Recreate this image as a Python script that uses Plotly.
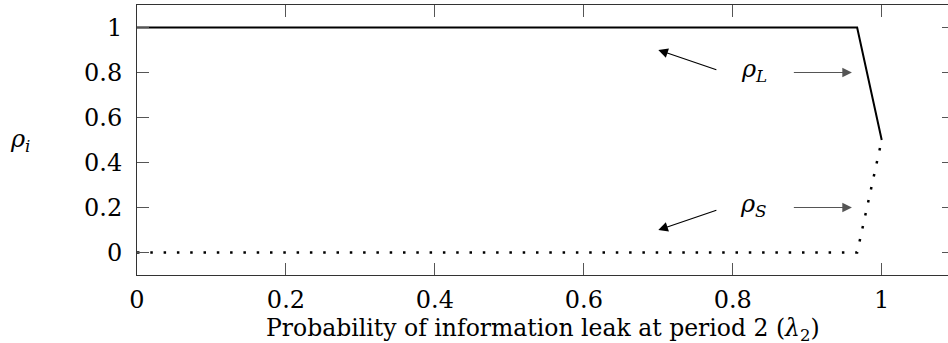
import plotly.graph_objects as go

# Data
lam = [0.0, 0.967, 1.0]
rho_L = [1.0, 1.0, 0.5]
rho_S = [0.0, 0.0, 0.5]
xtick_vals = [0, 0.2, 0.4, 0.6, 0.8, 1]
xtick_text = ["0", "0.2", "0.4", "0.6", "0.8", "1"]
ytick_vals = [0, 0.2, 0.4, 0.6, 0.8, 1]
ytick_text = ["0", "0.2", "0.4", "0.6", "0.8", "1"]

FONT = "DejaVu Serif"

fig = go.Figure()
fig.add_trace(go.Scatter(x=lam, y=rho_L, mode="lines",
                         line=dict(color="black", width=2), showlegend=False,
                         hoverinfo="skip"))
fig.add_trace(go.Scatter(x=lam, y=rho_S, mode="lines",
                         line=dict(color="black", width=2.5, dash="2.5px,10.8px"),
                         showlegend=False, hoverinfo="skip"))
# invisible trace to activate right-side tick axis
fig.add_trace(go.Scatter(x=[None], y=[None], yaxis="y2", showlegend=False,
                         hoverinfo="skip"))

axis_common = dict(showgrid=False, zeroline=False, ticks="inside", ticklen=12,
                   tickcolor="#555", tickwidth=1, automargin=False,
                   tickfont=dict(family=FONT, size=24, color="black"))

fig.update_layout(
    width=948, height=343,
    margin=dict(l=137, r=0, t=5, b=68, autoexpand=False),
    plot_bgcolor="white", paper_bgcolor="white",
    xaxis=dict(range=[0, 1.089], tickvals=xtick_vals, ticktext=xtick_text,
               showline=True, linecolor="#333", linewidth=1, mirror="ticks",
               ticklabelstandoff=3, **axis_common),
    yaxis=dict(range=[-0.1, 1.1], tickvals=ytick_vals, ticktext=ytick_text,
               showline=True, linecolor="#333", linewidth=1, mirror=False,
               ticklabelstandoff=9, **axis_common),
    yaxis2=dict(range=[-0.1, 1.1], overlaying="y", side="right", anchor="x",
                tickvals=ytick_vals, showticklabels=False, showline=False,
                showgrid=False, zeroline=False, ticks="inside", ticklen=6,
                tickcolor="#555", automargin=False),
)

ann = []
# axis labels
ann.append(dict(xref="paper", yref="paper", x=0.5, y=-0.2, yanchor="middle",
                xanchor="center", showarrow=False,
                text="Probability of information leak at period 2 (<i>λ</i><sub>2</sub>)",
                font=dict(family=FONT, size=23.5, color="black")))
ann.append(dict(xref="paper", yref="y", x=-0.144, y=0.5, xanchor="center",
                yanchor="middle", showarrow=False,
                text="<i>ρ</i><sub><i>i</i></sub>",
                font=dict(family=FONT, size=24, color="black")))
# series labels
for lab, yv in [("L", 0.81), ("S", 0.21)]:
    ann.append(dict(xref="x", yref="y", x=0.828, y=yv, xanchor="center",
                    yanchor="middle", showarrow=False,
                    text="<i>ρ</i><sub><i>%s</i></sub>" % lab,
                    font=dict(family=FONT, size=24, color="black")))
# arrows
arrows = [
    (0.88, 0.80, 0.96, 0.80, "#555"),
    (0.78, 0.81, 0.70, 0.90, "black"),
    (0.88, 0.20, 0.96, 0.20, "#555"),
    (0.78, 0.19, 0.70, 0.10, "black"),
]
for x0, y0, x1, y1, c in arrows:
    ann.append(dict(xref="x", yref="y", axref="x", ayref="y",
                    x=x1, y=y1, ax=x0, ay=y0, text="", showarrow=True,
                    arrowhead=2, arrowsize=1.6, arrowwidth=1.2, arrowcolor=c,
                    standoff=0, startstandoff=0))
fig.update_layout(annotations=ann)

fig.write_html("out.html", config={"displayModeBar": False},
               post_script="document.body.style.margin='0';"
                           "document.body.style.overflow='hidden';")
